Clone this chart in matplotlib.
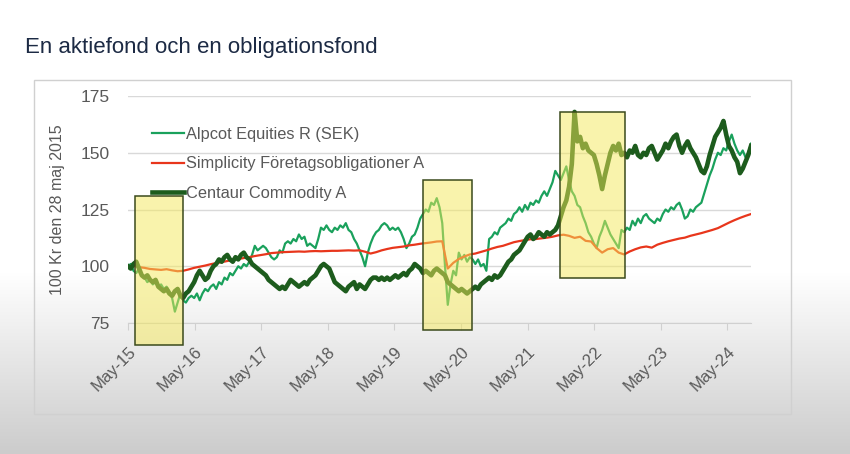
import numpy as np
import pandas as pd
import matplotlib
matplotlib.use("Agg")
import matplotlib.pyplot as plt
import matplotlib.dates as mdates
from matplotlib.patches import Rectangle

plt.rcParams['font.family'] = ['Liberation Sans', 'DejaVu Sans']

# --- data (index 100 = 28 maj 2015) ---
start_date = '2015-05-28'
end_date = '2024-10-05'

# Alpcot Equities R (SEK), twice a month
alpcot = [
    100, 101, 98, 97, 99, 96, 95, 93, 94, 92, 93, 91, 92, 90, 91, 89, 86, 80, 84, 88, 85, 84, 86, 87,        # 2015/16
    86, 88, 85, 88, 90, 89, 91, 92, 90, 93, 92, 95, 94, 97, 96, 98, 100, 99, 101, 100, 102, 105, 109, 107,  # 2016/17
    108, 109, 108, 106, 104, 103, 104, 107, 106, 110, 111, 110, 112, 111, 114, 112, 113, 109, 110, 109, 108, 112, 117, 116,  # 2017/18
    118, 116, 115, 117, 116, 118, 117, 119, 116, 115, 112, 110, 107, 104, 100, 106, 110, 113, 115, 116, 118, 119, 118, 116,  # 2018/19
    117, 116, 117, 115, 112, 108, 110, 113, 114, 117, 121, 123, 125, 124, 128, 127, 130, 126, 119, 100, 83, 92, 98, 96,  # 2019/20
    106, 103, 105, 102, 104, 103, 101, 103, 100, 101, 98, 112, 113, 115, 114, 117, 118, 119, 121, 120, 123, 124, 126, 124,  # 2020/21
    127, 125, 128, 127, 129, 128, 131, 133, 131, 134, 137, 142, 140, 138, 141, 144, 138, 133, 131, 127, 126, 122, 119, 115,  # 2021/22
    113, 110, 108, 113, 116, 120, 117, 114, 112, 110, 108, 116, 115, 117, 116, 120, 118, 121, 119, 122, 123, 121, 120, 119,  # 2022/23
    121, 120, 123, 125, 124, 126, 125, 127, 128, 125, 121, 122, 125, 124, 126, 127, 128, 132, 136, 140, 143, 147, 150, 149,  # 2023/24
    152, 151, 155, 158, 154, 151, 149, 151, 148, 150, 154,  # 2024
]

# Centaur Commodity A, twice a month
centaur = [
    100, 99, 101, 102, 99, 96, 95, 96, 94, 93, 94, 91, 90, 89, 90, 88, 87, 89, 90, 87, 86, 88, 89, 91,
    93, 96, 98, 96, 94, 95, 98, 100, 101, 103, 102, 104, 105, 103, 102, 104, 103, 105, 106, 104, 103, 101, 100, 99,
    98, 97, 96, 94, 93, 92, 91, 90, 91, 90, 92, 94, 93, 92, 91, 92, 93, 92, 94, 95, 96, 98, 100, 101,
    100, 99, 96, 93, 92, 91, 90, 89, 91, 92, 93, 90, 92, 91, 90, 92, 94, 95, 95, 94, 95, 94, 95, 94,
    95, 96, 95, 96, 97, 96, 98, 99, 101, 100, 99, 97, 98, 97, 96, 98, 99, 98, 97, 96, 93, 92, 91, 90,
    89, 90, 89, 88, 89, 90, 91, 90, 92, 93, 94, 95, 94, 96, 95, 96, 98, 100, 102, 103, 105, 106, 107, 109,
    111, 113, 114, 112, 113, 115, 114, 113, 115, 114, 115, 116, 118, 122, 126, 129, 135, 145, 168, 155, 157, 152, 154, 151,
    150, 149, 145, 140, 134, 140, 145, 150, 153, 151, 154, 149, 150, 148, 151, 150, 153, 149, 148, 150, 149, 152, 153, 150,
    147, 149, 151, 154, 152, 155, 157, 158, 153, 150, 153, 155, 152, 150, 148, 145, 142, 141, 144, 149, 153, 157, 159, 161,
    164, 158, 153, 151, 148, 146, 141, 143, 146, 149, 153,
]

# Simplicity Företagsobligationer A, monthly
simplicity = [
    100, 100.2, 99.6, 99.3, 98.8, 98.6, 98.4, 98.7, 98.2, 97.8, 98.0, 98.6,
    99.3, 99.8, 100.3, 100.9, 101.4, 101.8, 102.3, 102.8, 103.2, 103.6, 104.0, 104.5,
    104.9, 105.3, 105.8, 106.0, 106.2, 106.3, 106.4, 106.5, 106.4, 106.6, 106.7, 106.6,
    106.7, 106.8, 106.8, 106.9, 107.0, 106.9, 107.0, 106.4, 105.6, 106.2, 107.0, 107.6,
    108.1, 108.4, 108.7, 109.2, 109.5, 109.9, 110.2, 110.5, 110.9, 111.0, 99.0, 101.5,
    103.2, 104.3, 105.2, 105.6, 106.3, 107.0, 107.8, 108.5, 109.0, 109.8, 110.6, 111.1,
    111.5, 111.9, 112.0, 112.3, 112.6, 113.0, 113.6, 113.9, 113.4, 112.5, 113.0, 111.2,
    110.9, 108.0, 106.0, 107.5, 108.0, 106.0, 105.2, 106.5, 107.5, 108.3, 108.7, 108.2,
    109.5, 110.3, 111.0, 111.6, 112.2, 112.6, 113.4, 114.0, 114.6, 115.3, 116.0, 116.8,
    118.0, 119.2, 120.3, 121.3, 122.2, 123.0,
]

series_names = ['Alpcot Equities R (SEK)', 'Simplicity Företagsobligationer A', 'Centaur Commodity A']

# highlighted periods: (from, to, low, high)
periods = [
    ('2015-07-05', '2016-03-25', 65.5, 131),
    ('2019-10-31', '2020-07-28', 72, 138),
    ('2021-11-20', '2022-11-13', 95, 168),
]

tick_years = list(range(2015, 2025))

dates_semi = pd.date_range(start_date, end_date, periods=len(alpcot))
dates_month = pd.date_range(start_date, end_date, periods=len(simplicity))

# --- figure ---
fig = plt.figure(figsize=(8.5, 4.54), dpi=100)

# background with the grey fade at the bottom
bg = fig.add_axes([0, 0, 1, 1], zorder=-10)
rows = 454
shade = np.ones(rows)
fade_from = 272
shade[fade_from:] = np.linspace(1.0, 0.80, rows - fade_from)
img = np.repeat(shade[:, None], 3, axis=1)[:, None, :]
bg.imshow(img, aspect='auto', extent=[0, 1, 0, 1], origin='upper')
bg.add_patch(Rectangle((34 / 850, 1 - 414 / 454), (791 - 34) / 850, (414 - 80) / 454,
                       fill=False, edgecolor='#d0d0d0', linewidth=1.0, transform=bg.transAxes))
bg.set_xlim(0, 1)
bg.set_ylim(0, 1)
bg.axis('off')

fig.text(25 / 850, 1 - 47 / 454, 'En aktiefond och en obligationsfond', fontsize=16,
         color='#1c2a44', va='center', ha='left')

ax = fig.add_axes([128 / 850, 1 - 323 / 454, 623 / 850, 227 / 454])
ax.patch.set_alpha(0)

ax.plot(dates_semi, alpcot, color='#1aa15c', linewidth=1.6, label=series_names[0], zorder=3)
ax.plot(dates_month, simplicity, color='#e8361c', linewidth=1.6, label=series_names[1], zorder=3)
ax.plot(dates_semi, centaur, color='#1d5c1d', linewidth=3.3, label=series_names[2], zorder=3)

for d0, d1, lo, hi in periods:
    x0 = mdates.date2num(pd.Timestamp(d0))
    x1 = mdates.date2num(pd.Timestamp(d1))
    ax.add_patch(Rectangle((x0, lo), x1 - x0, hi - lo, facecolor='#f5e95a', alpha=0.5,
                           edgecolor='none', zorder=6, clip_on=False))
    ax.add_patch(Rectangle((x0, lo), x1 - x0, hi - lo, fill=False,
                           edgecolor='#3b4a1c', linewidth=1.1, zorder=7, clip_on=False))

ax.set_ylim(75, 175)
ax.set_yticks([75, 100, 125, 150, 175])
ax.set_xlim(pd.Timestamp(start_date), pd.Timestamp(end_date))
ticks = [pd.Timestamp(f'{y}-05-28') for y in tick_years]
ax.set_xticks(ticks)
ax.set_xticklabels([t.strftime('%b-%y') for t in ticks], rotation=45, ha='right',
                   rotation_mode='anchor')

ax.grid(axis='y', color='#d9d9d9', linewidth=1.0)
ax.set_axisbelow(True)
for side in ['left', 'right', 'top']:
    ax.spines[side].set_visible(False)
ax.spines['bottom'].set_color('#d0d0d0')
ax.tick_params(axis='y', length=0, pad=13, labelsize=12.5, labelcolor='#595959')
ax.tick_params(axis='x', length=5, color='#d0d0d0', pad=10, labelsize=12, labelcolor='#595959')

ax.set_ylabel('100 Kr den 28 maj 2015', fontsize=11.5, color='#595959')
ax.yaxis.set_label_coords(-(128 - 65) / 623, 0.5)

leg = ax.legend(loc='upper left', bbox_to_anchor=(0.0385, 0.865), frameon=False,
                fontsize=11.8, labelspacing=0.9, handlelength=1.95, handletextpad=0.15,
                borderpad=0, borderaxespad=0)
for txt in leg.get_texts():
    txt.set_color('#595959')
leg.set_zorder(4)

fig.savefig('out.png', dpi=100)
